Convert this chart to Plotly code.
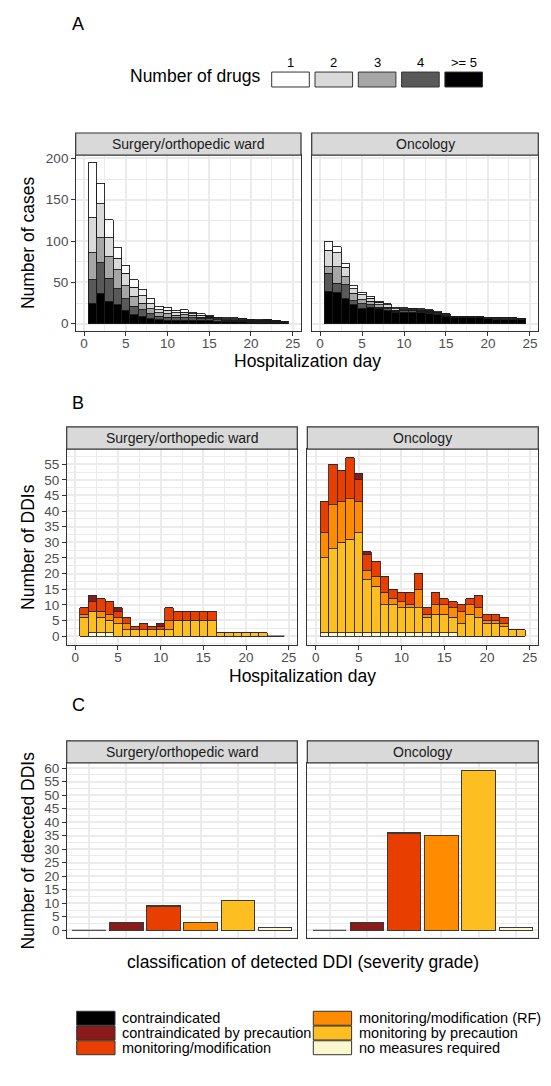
import plotly.graph_objects as go

W, H = 551, 1086
FONT = "Liberation Sans, Arial, Helvetica, sans-serif"
BORDER = "#333333"
GRID = "#EBEBEB"

# ---------------- data ----------------
days = list(range(1, 25))

drug_labels = ["1", "2", "3", "4", ">= 5"]
drug_colors = ["#FFFFFF", "#D9D9D9", "#A6A6A6", "#595959", "#000000"]

# Panel A - number of cases per hospitalization day, by number of drugs
surg_drugs1 = [67, 25, 22, 13, 10, 9, 7, 6, 4, 4, 3, 3, 2, 2, 1, 1, 1, 1, 0, 0, 1, 0, 0, 0]
surg_drugs2 = [42, 41, 23, 14, 15, 11, 9, 6, 4, 4, 3, 3, 2, 2, 1, 1, 1, 1, 1, 1, 0, 1, 0, 0]
surg_drugs3 = [33, 30, 26, 23, 16, 12, 8, 6, 4, 4, 3, 4, 3, 2, 2, 1, 1, 1, 1, 1, 1, 1, 1, 0]
surg_drugs4 = [28, 37, 28, 19, 14, 10, 8, 6, 4, 4, 3, 3, 3, 2, 2, 2, 1, 1, 1, 1, 1, 1, 1, 1]
surg_drugs5 = [25, 37, 27, 23, 16, 11, 9, 6, 5, 4, 4, 4, 4, 4, 4, 3, 3, 3, 3, 2, 2, 2, 2, 2]

onc_drugs1 = [11, 7, 5, 4, 3, 2, 1, 1, 1, 1, 0, 1, 1, 1, 0, 0, 0, 0, 0, 0, 0, 0, 0, 0]
onc_drugs2 = [20, 17, 11, 5, 6, 4, 3, 3, 2, 1, 1, 1, 1, 1, 1, 0, 0, 0, 1, 0, 0, 1, 0, 0]
onc_drugs3 = [8, 20, 10, 9, 5, 4, 3, 2, 1, 1, 1, 1, 1, 1, 1, 1, 1, 1, 0, 1, 1, 0, 1, 0]
onc_drugs4 = [22, 11, 17, 5, 6, 3, 2, 2, 1, 2, 2, 2, 2, 1, 1, 1, 0, 1, 1, 1, 1, 1, 1, 1]
onc_drugs5 = [39, 38, 30, 23, 18, 20, 18, 16, 14, 14, 14, 13, 12, 11, 9, 7, 8, 7, 7, 6, 5, 5, 5, 5]

severity = ["contraindicated", "contraindicated by precaution", "monitoring/modification",
            "monitoring/modification (RF)", "monitoring by precaution", "no measures required"]
severity_colors = ["#000000", "#8B1A1A", "#E83F00", "#FF8C00", "#FDBE22", "#FBF8CF"]

# Panel B - number of DDIs per hospitalization day, by severity grade
surg_ci   = [0] * 24
surg_cip  = [0, 2, 0, 0, 1, 0, 0, 0, 0, 1, 0, 0, 0, 0, 0, 0, 0, 0, 0, 0, 0, 0, 0, 0]
surg_mm   = [2, 3, 4, 4, 2, 2, 1, 2, 1, 1, 4, 3, 3, 3, 3, 3, 0, 0, 0, 0, 0, 0, 0, 0]
surg_mmrf = [1, 0, 2, 2, 2, 2, 0, 0, 0, 0, 3, 0, 0, 0, 0, 0, 0, 0, 0, 0, 0, 0, 0, 0]
surg_mp   = [6, 7, 5, 4, 4, 2, 2, 2, 2, 2, 2, 5, 5, 5, 5, 5, 1, 1, 1, 1, 1, 1, 0, 0]
surg_nm   = [0, 1, 1, 1, 0, 0, 0, 0, 0, 0, 0, 0, 0, 0, 0, 0, 0, 0, 0, 0, 0, 0, 0, 0]

onc_ci   = [0] * 24
onc_cip  = [0, 0, 0, 0, 2, 1, 0, 0, 0, 0, 0, 0, 0, 0, 0, 0, 0, 0, 0, 0, 0, 0, 0, 0]
onc_mm   = [10, 13, 10, 13, 7, 5, 5, 5, 3, 3, 4, 5, 2, 4, 2, 2, 2, 2, 4, 2, 2, 2, 0, 0]
onc_mmrf = [8, 14, 13, 13, 10, 3, 3, 4, 2, 2, 1, 6, 1, 3, 3, 3, 4, 3, 3, 1, 1, 1, 0, 0]
onc_mp   = [24, 27, 29, 30, 32, 17, 15, 9, 9, 8, 8, 8, 5, 6, 6, 5, 4, 7, 6, 4, 4, 3, 2, 2]
onc_nm   = [1, 1, 1, 1, 1, 1, 1, 1, 1, 1, 1, 1, 1, 1, 1, 1, 0, 0, 0, 0, 0, 0, 0, 0]

# Panel C - number of detected DDIs by severity grade
surg_detected = [0, 3, 9, 3, 11, 1]
onc_detected  = [0, 3, 36, 35, 59, 1]

facets = ["Surgery/orthopedic ward", "Oncology"]

# ---------------- geometry (pixels) ----------------
A_Y = (151.7, 328.3)
B_Y = (446.7, 643.3)
C_Y = (761.7, 937.7)
A_X = [(75.7, 301.0), (311.7, 538.3)]
BC_X = [(66.7, 297.3), (307.3, 538.3)]
STRIP_H = 22.2


def xd(a, b):
    return [a / W, b / W]


def yd(top, bottom):
    return [1 - bottom / H, 1 - top / H]


def py(v):
    return 1 - v / H


def px(v):
    return v / W


tickfont = dict(family=FONT, size=13.5, color="#4D4D4D")


def axis(domain, anchor, rng, dtick=None, minor=None, labels=True, ticks=True,
         tickvals=None, standoff=0):
    d = dict(domain=domain, anchor=anchor, range=rng, showline=True, mirror=True,
             linecolor=BORDER, linewidth=1.2, showgrid=True, gridcolor=GRID,
             gridwidth=1.5, zeroline=False, ticks="outside" if ticks else "",
             ticklen=3.5, tickwidth=1.1, tickcolor=BORDER,
             showticklabels=labels, tickfont=tickfont, fixedrange=True,
             ticklabelstandoff=standoff)
    if tickvals is not None:
        d.update(tickmode="array", tickvals=tickvals)
    else:
        d.update(tickmode="linear", tick0=0, dtick=dtick)
    if minor is not None:
        d["minor"] = dict(tick0=0, dtick=minor, showgrid=True, gridcolor=GRID,
                          gridwidth=0.7, ticks="")
    return d


layout = dict(width=W, height=H, margin=dict(l=0, r=0, t=0, b=0),
              paper_bgcolor="white", plot_bgcolor="white", barmode="stack",
              showlegend=False, font=dict(family=FONT))

x_rng = [-1.0, 26.0]
sev_pos = list(range(1, len(severity) + 1))

# A
layout["xaxis"] = axis(xd(*A_X[0]), "y", x_rng, 5, 2.5, standoff=-4)
layout["yaxis"] = axis(yd(*A_Y), "x", [-9, 204], 50, 25)
layout["xaxis2"] = axis(xd(*A_X[1]), "y2", x_rng, 5, 2.5, standoff=-4)
layout["yaxis2"] = axis(yd(*A_Y), "x2", [-9, 204], 50, 25, labels=False, ticks=False)
# B
layout["xaxis3"] = axis(xd(*BC_X[0]), "y3", x_rng, 5, 2.5, standoff=-4)
layout["yaxis3"] = axis(yd(*B_Y), "x3", [-2.85, 59.85], 5, 2.5)
layout["xaxis4"] = axis(xd(*BC_X[1]), "y4", x_rng, 5, 2.5, standoff=-4)
layout["yaxis4"] = axis(yd(*B_Y), "x4", [-2.85, 59.85], 5, 2.5, labels=False, ticks=False)
# C
layout["xaxis5"] = axis(xd(*BC_X[0]), "y5", [0.4, 6.6], labels=False, ticks=False,
                        tickvals=sev_pos)
layout["yaxis5"] = axis(yd(*C_Y), "x5", [-2.95, 61.95], 5, 2.5)
layout["xaxis6"] = axis(xd(*BC_X[1]), "y6", [0.4, 6.6], labels=False, ticks=False,
                        tickvals=sev_pos)
layout["yaxis6"] = axis(yd(*C_Y), "x6", [-2.95, 61.95], 5, 2.5, labels=False, ticks=False)

fig = go.Figure(layout=layout)

# ---- Panel A bars (stack bottom -> top: >=5, 4, 3, 2, 1)
for (xa, ya), series in [(("x", "y"), [surg_drugs5, surg_drugs4, surg_drugs3, surg_drugs2, surg_drugs1]),
                         (("x2", "y2"), [onc_drugs5, onc_drugs4, onc_drugs3, onc_drugs2, onc_drugs1])]:
    for vals, col in zip(series, drug_colors[::-1]):
        fig.add_trace(go.Bar(x=days, y=vals, width=1, xaxis=xa, yaxis=ya,
                             marker=dict(color=col, line=dict(color="#1A1A1A", width=0.9)),
                             hoverinfo="skip"))

# ---- Panel B bars (stack bottom -> top: no measures ... contraindicated)
for (xa, ya), series in [(("x3", "y3"), [surg_ci, surg_cip, surg_mm, surg_mmrf, surg_mp, surg_nm]),
                         (("x4", "y4"), [onc_ci, onc_cip, onc_mm, onc_mmrf, onc_mp, onc_nm])]:
    for vals, col in zip(series[::-1], severity_colors[::-1]):
        fig.add_trace(go.Bar(x=days, y=vals, width=1, xaxis=xa, yaxis=ya,
                             marker=dict(color=col, line=dict(color="#2B2B2B", width=0.9)),
                             hoverinfo="skip"))
    totals = [sum(v) for v in zip(*series)]
    for d, t in zip(days, totals):
        if t == 0:
            fig.add_trace(go.Scatter(x=[d - 0.5, d + 0.5], y=[0, 0], mode="lines",
                                     line=dict(color="#3A3A3A", width=1.1),
                                     xaxis=xa, yaxis=ya, hoverinfo="skip"))

# ---- Panel C bars
for (xa, ya), vals in [(("x5", "y5"), surg_detected), (("x6", "y6"), onc_detected)]:
    fig.add_trace(go.Bar(x=sev_pos, y=vals, width=0.9, xaxis=xa, yaxis=ya,
                         marker=dict(color=severity_colors, line=dict(color="#3A3A3A", width=1.1)),
                         hoverinfo="skip"))
    for p, v in zip(sev_pos, vals):
        if v == 0:
            fig.add_trace(go.Scatter(x=[p - 0.45, p + 0.45], y=[0, 0], mode="lines",
                                     line=dict(color="#5A5A5A", width=1.2),
                                     xaxis=xa, yaxis=ya, hoverinfo="skip"))

shapes = []
annotations = []

# ---- facet strips
for (ytop, _), xs in [(A_Y, A_X), (B_Y, BC_X), (C_Y, BC_X)]:
    for (x0, x1), name in zip(xs, facets):
        shapes.append(dict(type="rect", xref="paper", yref="paper",
                           x0=px(x0), x1=px(x1), y0=py(ytop), y1=py(ytop - STRIP_H),
                           fillcolor="#D9D9D9", line=dict(color=BORDER, width=1.2), layer="above"))
        annotations.append(dict(xref="paper", yref="paper", x=px((x0 + x1) / 2),
                                y=py(ytop - STRIP_H / 2), text=name, showarrow=False,
                                xanchor="center", yanchor="middle",
                                font=dict(family=FONT, size=14, color="#1A1A1A")))

# ---- panel letters
for letter, yv in [("A", 20), ("B", 400), ("C", 704)]:
    annotations.append(dict(xref="paper", yref="paper", x=px(78), y=py(yv), text=letter,
                            showarrow=False, xanchor="center", yanchor="middle",
                            font=dict(family=FONT, size=18, color="black")))

# ---- axis titles
title_font = dict(family=FONT, size=17.5, color="black")
for text, yc in [("Number of cases", (A_Y[0] + A_Y[1]) / 2),
                 ("Number of DDIs", (B_Y[0] + B_Y[1]) / 2),
                 ("Number of detected DDIs", (C_Y[0] + C_Y[1]) / 2)]:
    annotations.append(dict(xref="paper", yref="paper", x=px(28), y=py(yc), text=text,
                            textangle=-90, showarrow=False, xanchor="center",
                            yanchor="middle", font=title_font))
for text, xc, yc in [("Hospitalization day", (A_X[0][0] + A_X[1][1]) / 2, 358.5),
                     ("Hospitalization day", (BC_X[0][0] + BC_X[1][1]) / 2, 674),
                     ("classification of detected DDI (severity grade)",
                      (BC_X[0][0] + BC_X[1][1]) / 2, 962)]:
    annotations.append(dict(xref="paper", yref="paper", x=px(xc), y=py(yc), text=text,
                            showarrow=False, xanchor="center", yanchor="middle",
                            font=title_font))

# ---- legend: Number of drugs
annotations.append(dict(xref="paper", yref="paper", x=px(195), y=py(72),
                        text="Number of drugs", showarrow=False, xanchor="center",
                        yanchor="middle", font=dict(family=FONT, size=17.5, color="black")))
box_w, gap = 37.6, 5.7
for i, (lab, col) in enumerate(zip(drug_labels, drug_colors)):
    x0 = 271.7 + i * (box_w + gap)
    shapes.append(dict(type="rect", xref="paper", yref="paper", x0=px(x0), x1=px(x0 + box_w),
                       y0=py(83.3), y1=py(68.3), fillcolor=col,
                       line=dict(color=BORDER, width=1)))
    annotations.append(dict(xref="paper", yref="paper", x=px(x0 + box_w / 2), y=py(59),
                            text=lab, showarrow=False, xanchor="center", yanchor="middle",
                            font=dict(family=FONT, size=13, color="black")))

# ---- legend: severity grades (2 columns x 3 rows)
leg_cols = [(76.7, 120.0), (313.3, 356.7)]
row_y = [1018.0, 1032.8, 1047.6]
for i, (lab, col) in enumerate(zip(severity, severity_colors)):
    (bx, tx), yc = leg_cols[i // 3], row_y[i % 3]
    shapes.append(dict(type="rect", xref="paper", yref="paper", x0=px(bx), x1=px(bx + 38.3),
                       y0=py(yc + 7), y1=py(yc - 7), fillcolor=col,
                       line=dict(color=BORDER, width=1)))
    annotations.append(dict(xref="paper", yref="paper", x=px(tx), y=py(yc), text=lab,
                            showarrow=False, xanchor="left", yanchor="middle",
                            font=dict(family=FONT, size=14.5, color="black")))

fig.update_layout(shapes=shapes, annotations=annotations)
fig.write_html("out.html", config={"displayModeBar": False},
               post_script="document.body.style.margin='0px';"
                           "document.body.style.overflow='hidden';")
